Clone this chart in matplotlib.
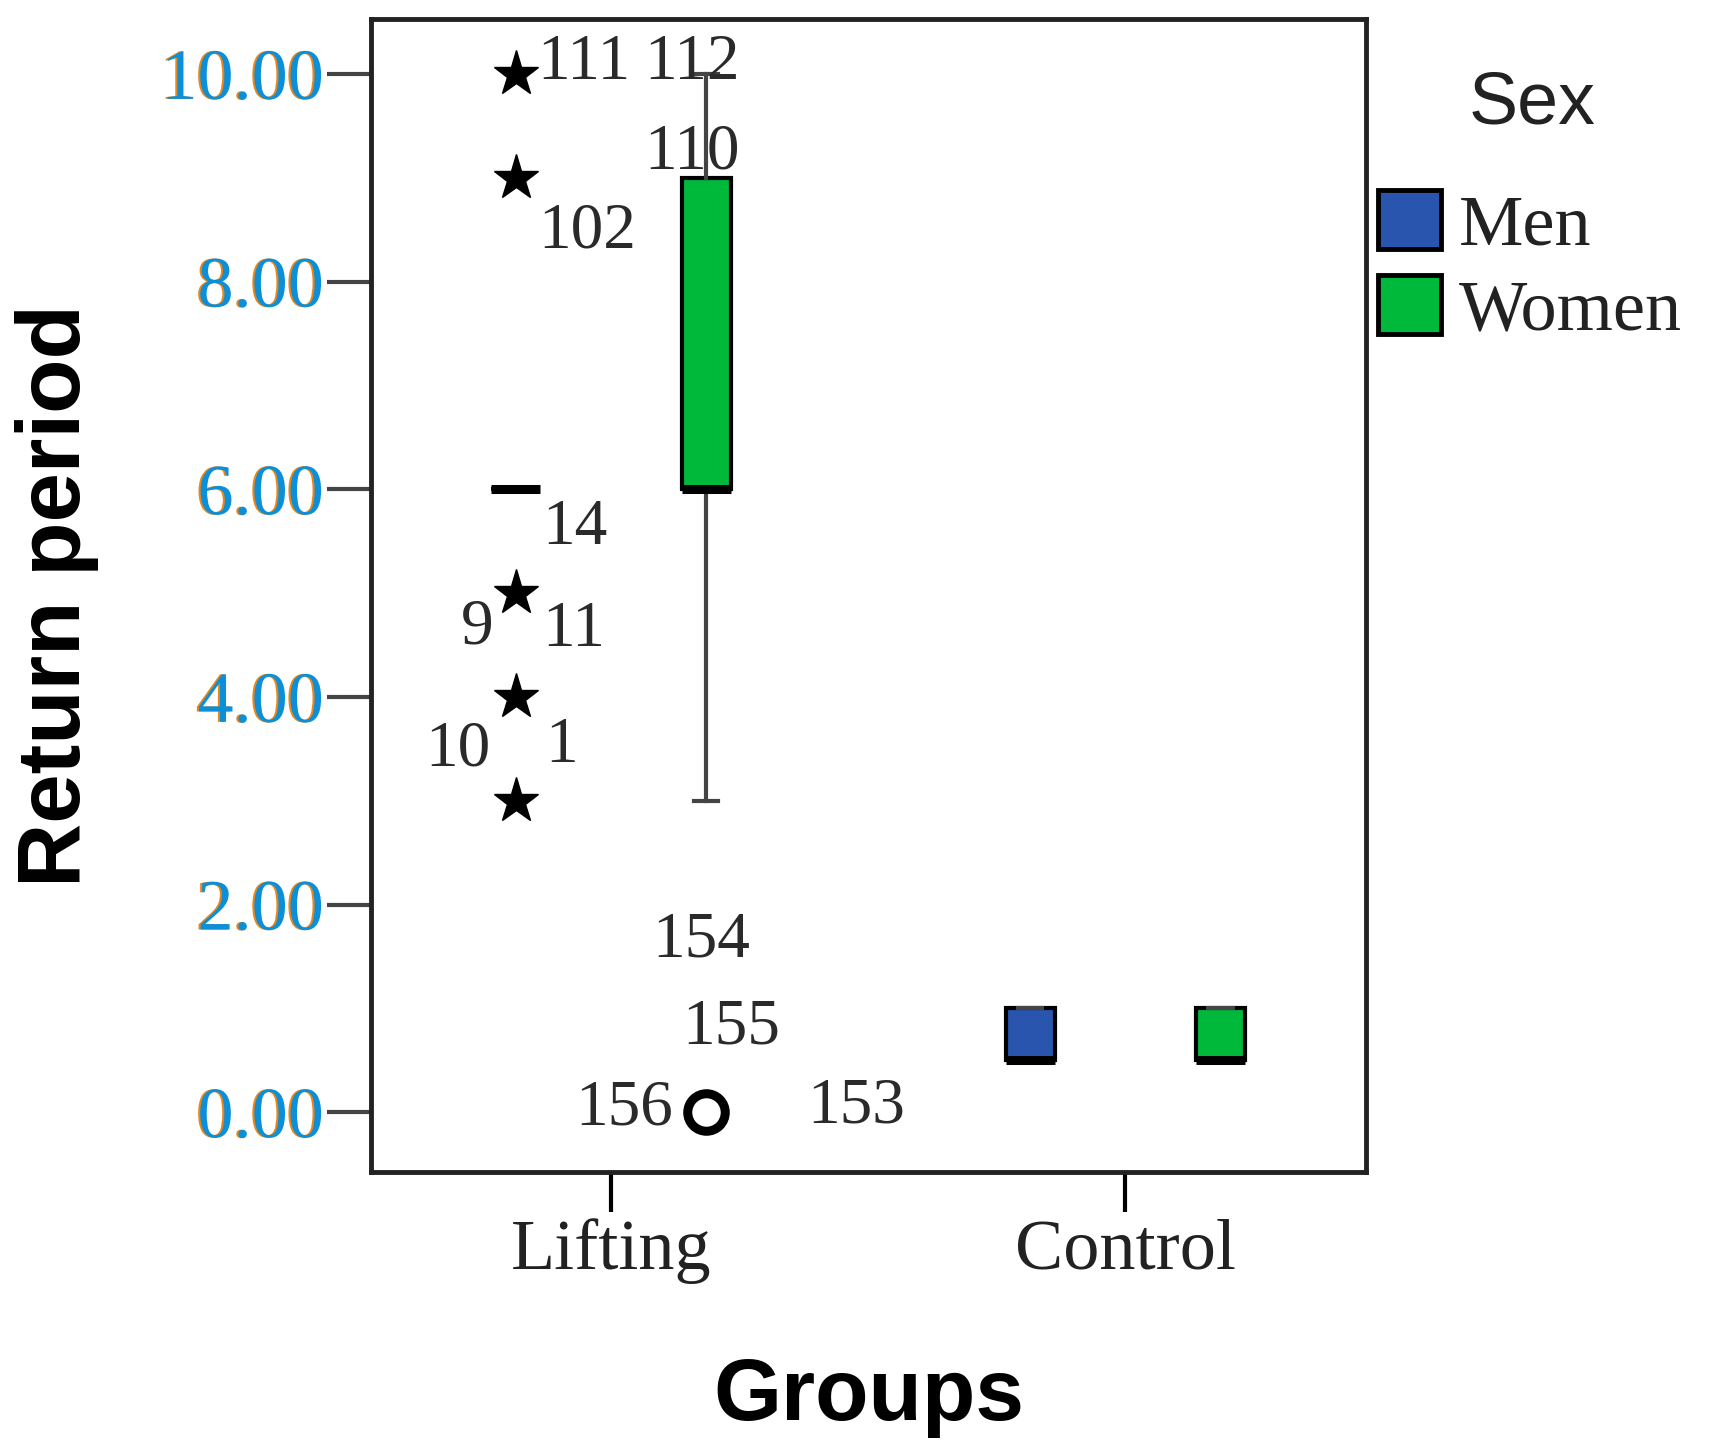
#!/usr/bin/env python3
"""
SPSS-style clustered boxplot: return period by group and sex.
"""

import matplotlib.pyplot as plt
import matplotlib.patheffects as pe
from matplotlib.patches import Patch

# ============================================================================
# DATA
# ============================================================================

groups = ['Lifting', 'Control']
sexes = ['Men', 'Women']
sex_colors = ['#2A55AF', '#00B83A']

# five-number summaries per group: whislo, q1, median, q3, whishi
men_whislo = [6, 0.5]
men_q1 = [6, 0.5]
men_med = [6, 0.5]
men_q3 = [6, 1.0]
men_whishi = [6, 1.0]
men_extremes = [[10, 9, 5, 4, 3], []]

women_whislo = [3, 0.5]
women_q1 = [6, 0.5]
women_med = [6, 0.5]
women_q3 = [9, 1.0]
women_whishi = [10, 1.0]
women_outliers = [[0], []]

# case numbers printed beside the outlying points
case_ids = ['111', '112', '110', '102', '14', '9', '11', '10', '1',
            '154', '155', '156', '153']
y_ticks = [0, 2, 4, 6, 8, 10]

# where the case numbers sit (data coords)
case_x = [-0.144, 0.064, 0.064, -0.142, -0.134, -0.292, -0.134, -0.36, -0.127,
          0.08, 0.138, -0.07, 0.381]
case_y = [10.1, 10.1, 9.24, 8.48, 5.62, 4.67, 4.64, 3.49, 3.52,
          1.65, 0.81, 0.03, 0.05]

offset = 0.185
box_w = 0.095

serif = 'Liberation Serif'
sans = 'Liberation Sans'


def make_stats(whislo, q1, med, q3, whishi, fliers):
    return [dict(whislo=a, q1=b, med=c, q3=d, whishi=e, fliers=f)
            for a, b, c, d, e, f in zip(whislo, q1, med, q3, whishi, fliers)]


fig = plt.figure(figsize=(17.1, 14.51), dpi=100)
ax = fig.add_axes([0.217, 0.192, 0.582, 0.795])

common = dict(widths=box_w, patch_artist=True, manage_ticks=False,
              medianprops=dict(color='black', lw=6.5),
              whiskerprops=dict(color='#444444', lw=3),
              capprops=dict(color='#444444', lw=3))

# Men: extremes shown as stars
ax.bxp(make_stats(men_whislo, men_q1, men_med, men_q3, men_whishi, men_extremes),
       positions=[i - offset for i in range(len(groups))],
       boxprops=dict(facecolor=sex_colors[0], edgecolor='black', lw=3),
       flierprops=dict(marker='*', markersize=34, markerfacecolor='black',
                       markeredgecolor='black', linestyle='none'),
       **common)

# Women: outliers shown as open circles
ax.bxp(make_stats(women_whislo, women_q1, women_med, women_q3, women_whishi, women_outliers),
       positions=[i + offset for i in range(len(groups))],
       boxprops=dict(facecolor=sex_colors[1], edgecolor='black', lw=3),
       flierprops=dict(marker='o', markersize=27, markerfacecolor='none',
                       markeredgecolor='black', markeredgewidth=6.5, linestyle='none'),
       **common)

for cid, x, y in zip(case_ids, case_x, case_y):
    ax.text(x, y, cid, ha='left', va='center', fontsize=47,
            family=serif, color='#2a2a2a')

# axes styling
ax.set_xlim(-0.466, 1.468)
ax.set_ylim(-0.58, 10.53)

ax.set_yticks(y_ticks)
ax.set_yticklabels([f'{v:.2f}' for v in y_ticks])
ax.tick_params(axis='y', length=32, width=3, color='#444444', pad=2,
               labelsize=52, labelcolor='#0a8fd8')
for lab in ax.get_yticklabels():
    lab.set_fontfamily(serif)
    lab.set_path_effects([pe.withSimplePatchShadow(offset=(-1.5, 0),
                                                   shadow_rgbFace='#e8861a',
                                                   alpha=1.0)])

ax.set_xticks(range(len(groups)))
ax.set_xticklabels(groups)
ax.tick_params(axis='x', length=29, width=3, color='black', pad=4,
               labelsize=52, labelcolor='#222222')
for lab in ax.get_xticklabels():
    lab.set_fontfamily(serif)
ax.xaxis.get_major_ticks()[1].tick1line.set_color('#777777')

for s in ax.spines.values():
    s.set_linewidth(3.5)
    s.set_color('#222222')

ax.set_ylabel('Return period', fontsize=64, fontweight='bold', family=sans)
ax.yaxis.set_label_coords(-0.273, 0.5)
ax.set_xlabel('Groups', fontsize=63, fontweight='bold', family=sans, va='top')
ax.xaxis.set_label_coords(0.5, -0.16)

# legend: title drawn separately so it can sit further above the entries
fig.text(0.896, 0.928, 'Sex', ha='center', va='center', fontsize=53, family=sans,
         color='#222222')
handles = [Patch(facecolor=c, edgecolor='black', linewidth=3.5, label=s)
           for s, c in zip(sexes, sex_colors)]
leg = fig.legend(handles=handles, loc='upper left',
                 bbox_to_anchor=(0.806, 0.869), frameon=False,
                 prop=dict(family=serif, size=52),
                 handlelength=0.87, handleheight=0.87, handletextpad=0.25,
                 labelspacing=0.22, borderpad=0, borderaxespad=0)
for t in leg.get_texts():
    t.set_color('#222222')

plt.savefig('out.png', dpi=100, facecolor='white')
